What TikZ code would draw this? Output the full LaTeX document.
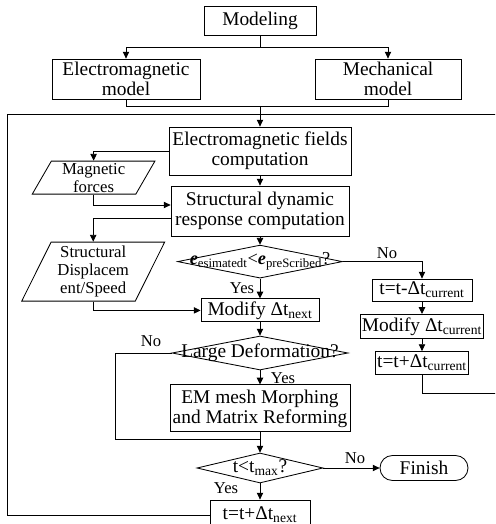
\documentclass[tikz,border=0pt]{standalone}
\usepackage{fontspec}
\setmainfont{Liberation Serif}
\usetikzlibrary{shapes.geometric, arrows.meta}

\begin{document}
\begin{tikzpicture}[line width=0.6pt, >={Triangle[length=1.7mm, width=1.6mm]},
    font=\fontsize{13.8}{14.2}\selectfont]
    \tikzstyle{box} = [rectangle, draw, align=center, inner sep=1pt]
    \tikzstyle{decision} = [diamond, draw, inner sep=0pt]
    \tikzstyle{data} = [trapezium, trapezium left angle=64, trapezium right angle=116,
        trapezium stretches=true, draw, align=center, inner sep=0pt,
        font=\fontsize{11.9}{12.8}\selectfont]
    \tikzstyle{tag} = [font=\fontsize{11.8}{12}\selectfont, inner sep=0pt]

    \useasboundingbox (0, 0) rectangle (12.375, 13.1);
    \clip (0, 0) rectangle (12.375, 13.1);

    \node [box, minimum width=2.8cm, minimum height=0.725cm] (a) at (6.5, 12.585) {Modeling};
    \node [box, minimum width=3.7cm, minimum height=1cm] (b) at (3.15, 11.125) {Electromagnetic \\ model};
    \node [box, minimum width=3.65cm, minimum height=1cm] (c) at (9.7, 11.125) {Mechanical \\ model};

    \node [box, minimum width=4.55cm, minimum height=1.2cm] (d) at (6.5, 9.325) {Electromagnetic fields \\ computation};
    \node [data, minimum width=3.075cm, minimum height=0.825cm] (e) at (2.34, 8.66) {Magnetic \\ forces};
    \node [box, minimum width=4.45cm, minimum height=1.25cm] (f) at (6.5, 7.825) {Structural dynamic \\ response computation};
    \node [data, minimum width=3.6cm, minimum height=1.475cm] (g) at (2.33, 6.31) {Structural \\ Displacem \\ ent/Speed};

    \node [decision, minimum width=4.125cm, minimum height=0.825cm] (h) at (6.5, 6.56)
        {\makebox[0pt]{\fontsize{13}{14}\selectfont\textbf{\textit{e}}\textsubscript{esimatedt}<\textbf{\textit{e}}\textsubscript{preScribed}?}};
    \node [box, minimum width=2.95cm, minimum height=0.575cm] (i) at (6.5, 5.34) {Modify Δt\textsubscript{next}};

    \node [box, minimum width=2.5cm, minimum height=0.55cm] (j) at (10.55, 5.85) {t=t-Δt\textsubscript{current}};
    \node [box, minimum width=3.075cm, minimum height=0.6cm] (k) at (10.55, 4.94) {Modify Δt\textsubscript{current}};
    \node [box, minimum width=2.275cm, minimum height=0.575cm] (l) at (10.55, 4.025) {t=t+Δt\textsubscript{current}};

    \node [decision, minimum width=4.4cm, minimum height=0.85cm] (m) at (6.5, 4.275) {\makebox[0pt]{Large Deformation?}};
    \node [box, minimum width=4.5cm, minimum height=1.175cm] (n) at (6.5, 2.89) {EM mesh Morphing \\ and Matrix Reforming};

    \node [decision, minimum width=3.15cm, minimum height=0.75cm] (o) at (6.5, 1.4) {\makebox[0pt]{t<t\textsubscript{max}?}};
    \node [box, rounded corners=0.31cm, minimum width=2.2cm, minimum height=0.625cm] (p) at (10.6, 1.4) {Finish};
    \node [box, minimum width=2.5cm, minimum height=0.75cm] (q) at (6.5, 0.225) {t=t+Δt\textsubscript{next}};

    \node [tag] (y1) at (6.05, 5.9) {Yes};
    \node [tag] (n1) at (9.675, 6.775) {No};
    \node [tag] (n2) at (3.775, 4.575) {No};
    \node [tag] (y2) at (7.075, 3.65) {Yes};
    \node [tag] (n3) at (8.875, 1.65) {No};
    \node [tag] (y3) at (5.65, 0.9) {Yes};

    \coordinate (r1) at (6.5, 11.925);
    \coordinate (r2) at (6.5, 10.45);
    \coordinate (r3) at (6.5, 2.125);
    \coordinate (r4) at (2.875, 2.125);
    \coordinate (r5) at (0.175, 10.25);
    \coordinate (r6) at (12.55, 10.25);
    \coordinate (r7) at (12.55, 3.275);

    \draw [-] (a) -- (r1);
    \draw [->] (r1) -| (b);
    \draw [->] (r1) -| (c);

    \draw [-] (b) |- (r2);
    \draw [-] (c) |- (r2);
    \draw [->] (r2) -- (d);

    \draw [->] (d.west) -| (e);
    \draw [->] (e) |- ([yshift=0.15cm]f.west);
    \draw [->] (d) -- (f);
    \draw [->] ([yshift=-0.175cm]f.west) -| (g);
    \draw [->] (g) |- (i);

    \draw [->] (f) -- (h);
    \draw [->] (h) -- (i);
    \draw [->] (h) -| (j);
    \draw [->] (j) -- (k);
    \draw [->] (k) -- (l);

    \draw [->] (i) -- (m);
    \draw [->] (m) -- (n);
    \draw [-] (m) -| (r4) -- (r3);
    \draw [-] (n) -- (r3);
    \draw [->] (r3) -- (o);

    \draw [->] (o) -- (p);
    \draw [->] (o) -- (q);

    \draw [-] (q) -| (r5) -- (r6);
    \draw [-] (l) |- (r7) -- (r6);
\end{tikzpicture}
\end{document}
